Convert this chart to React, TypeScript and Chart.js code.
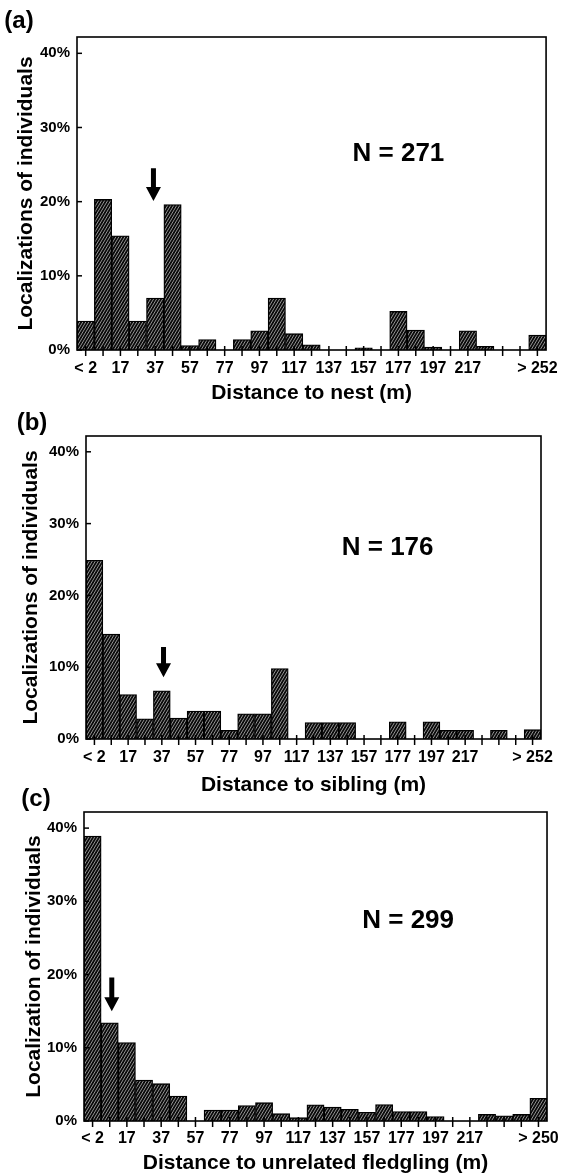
import React, { useEffect, useRef } from "react";
import { Chart, registerables } from "chart.js";

Chart.register(...registerables);

const FONT = '"Liberation Sans", Arial, Helvetica, sans-serif';

// Tick labels (one per 10 m bin, every other bin labelled)
const binLabels252 = ["< 2", "", "17", "", "37", "", "57", "", "77", "", "97", "", "117", "", "137", "", "157", "", "177", "", "197", "", "217", "", "", "", "> 252"];
const binLabels250 = ["< 2", "", "17", "", "37", "", "57", "", "77", "", "97", "", "117", "", "137", "", "157", "", "177", "", "197", "", "217", "", "", "", "> 250"];

// Percent of localizations per bin
const nestPct = [3.9, 20.3, 15.4, 3.9, 7.0, 19.6, 0.6, 1.4, 0, 1.4, 2.6, 7.0, 2.2, 0.7, 0, 0, 0.3, 0, 5.2, 2.7, 0.4, 0, 2.6, 0.5, 0, 0, 2.0];
const siblingPct = [24.9, 14.6, 6.2, 2.8, 6.7, 2.9, 3.9, 3.9, 1.2, 3.5, 3.5, 9.8, 0, 2.3, 2.3, 2.3, 0, 0, 2.4, 0, 2.4, 1.2, 1.2, 0, 1.2, 0, 1.3];
const unrelatedPct = [38.9, 13.4, 10.7, 5.6, 5.1, 3.4, 0, 1.5, 1.5, 2.1, 2.5, 1.0, 0.45, 2.2, 1.9, 1.6, 1.2, 2.25, 1.3, 1.3, 0.6, 0, 0, 0.9, 0.7, 0.9, 3.1];

const panelLetters = ["(a)", "(b)", "(c)"];
const xTitles = ["Distance to nest (m)", "Distance to sibling (m)", "Distance to unrelated fledgling (m)"];
const yTitles = ["Localizations of individuals", "Localizations of individuals", "Localization of individuals"];
const nLabels = ["N = 271", "N = 176", "N = 299"];
// N label anchor: [bin index, percent]
const nAnchors = [[18.0, 26.5], [17.4, 26.6], [18.4, 27.3]];
// Arrows: [bin index, top percent, tip percent]
const arrows = [[3.9, 24.5, 20.1], [4.1, 12.8, 8.6], [1.12, 19.6, 15.0]];

const Y_MAX = 42.2;

type Layout = {
  top: number; height: number; padTop: number; padRight: number;
  yWidth: number; xHeight: number; yTitlePad: number; xTitlePad: number;
  tickPad: number; letterX: number; letterY: number;
};

const layouts: Layout[] = [
  { top: 0, height: 410, padTop: 37, padRight: 20, yWidth: 77, xHeight: 60, yTitlePad: 14, xTitlePad: 4, tickPad: 9, letterX: 19, letterY: 21 },
  { top: 400, height: 400, padTop: 36, padRight: 26, yWidth: 86, xHeight: 61, yTitlePad: 19, xTitlePad: 2, tickPad: 9, letterX: 32, letterY: 23 },
  { top: 780, height: 396, padTop: 32, padRight: 17, yWidth: 84, xHeight: 55, yTitlePad: 22, xTitlePad: 0, tickPad: 8, letterX: 36, letterY: 19 },
];

function makePattern(): CanvasPattern | string {
  const w = 3, h = 5;
  const c = document.createElement("canvas");
  c.width = w;
  c.height = h;
  const g = c.getContext("2d");
  if (!g) return "#222";
  g.fillStyle = "#0a0a0a";
  g.fillRect(0, 0, w, h);
  g.strokeStyle = "#b8b8b8";
  g.lineWidth = 0.8;
  g.beginPath();
  g.moveTo(0, h); g.lineTo(w, 0);
  g.moveTo(-w, h); g.lineTo(0, 0);
  g.moveTo(w, h); g.lineTo(2 * w, 0);
  g.stroke();
  return g.createPattern(c, "repeat") || "#222";
}

function makeDecor(i: number, L: Layout) {
  return {
    id: "decor" + i,
    afterDatasetsDraw(chart: any) {
      const { ctx, chartArea: a, scales } = chart;
      const x = scales.x, y = scales.y;
      ctx.save();
      ctx.strokeStyle = "#000";
      ctx.fillStyle = "#000";
      // frame
      ctx.lineWidth = 1.6;
      ctx.strokeRect(a.left, a.top, a.right - a.left, a.bottom - a.top);
      // x tick marks
      ctx.lineWidth = 1.5;
      const n = chart.data.labels.length;
      for (let k = 0; k < n; k++) {
        const px = x.getPixelForValue(k);
        ctx.beginPath();
        ctx.moveTo(px, a.bottom - 4);
        ctx.lineTo(px, a.bottom + 6);
        ctx.stroke();
      }
      // y tick marks (inside)
      for (const t of y.ticks) {
        const py = y.getPixelForValue(t.value);
        ctx.beginPath();
        ctx.moveTo(a.left, py);
        ctx.lineTo(a.left + 5, py);
        ctx.stroke();
      }
      // arrow
      const [ai, af, at] = arrows[i];
      const ax = x.getPixelForValue(ai);
      const ay0 = y.getPixelForValue(af);
      const ay1 = y.getPixelForValue(at);
      const headLen = 14, headW = 7.5, shaftW = 2.5;
      ctx.beginPath();
      ctx.moveTo(ax - shaftW, ay0);
      ctx.lineTo(ax + shaftW, ay0);
      ctx.lineTo(ax + shaftW, ay1 - headLen);
      ctx.lineTo(ax + headW, ay1 - headLen);
      ctx.lineTo(ax, ay1);
      ctx.lineTo(ax - headW, ay1 - headLen);
      ctx.lineTo(ax - shaftW, ay1 - headLen);
      ctx.closePath();
      ctx.fill();
      // N label
      const [ni, nv] = nAnchors[i];
      ctx.font = `bold 26px ${FONT}`;
      ctx.textAlign = "center";
      ctx.textBaseline = "middle";
      ctx.fillText(nLabels[i], x.getPixelForValue(ni), y.getPixelForValue(nv));
      // panel letter
      ctx.font = `bold 24px ${FONT}`;
      ctx.fillText(panelLetters[i], L.letterX, L.letterY);
      ctx.restore();
    },
  };
}

export default function App() {
  const r0 = useRef<HTMLCanvasElement>(null);
  const r1 = useRef<HTMLCanvasElement>(null);
  const r2 = useRef<HTMLCanvasElement>(null);

  useEffect(() => {
    const refs = [r0, r1, r2];
    const dataSets = [nestPct, siblingPct, unrelatedPct];
    const labelSets = [binLabels252, binLabels252, binLabels250];
    const pattern = makePattern();
    const charts: Chart[] = [];
    refs.forEach((ref, i) => {
      const L = layouts[i];
      const canvas = ref.current;
      if (!canvas) return;
      const ch = new Chart(canvas, {
        type: "bar",
        data: {
          labels: labelSets[i],
          datasets: [
            {
              data: dataSets[i],
              backgroundColor: pattern as any,
              borderColor: "#000",
              borderWidth: 1.3,
              barPercentage: 1,
              categoryPercentage: 1,
            },
          ],
        },
        options: {
          animation: false,
          responsive: false,
          maintainAspectRatio: false,
          devicePixelRatio: 1,
          events: [],
          layout: { padding: { top: L.padTop, right: L.padRight, left: 0, bottom: 0 } },
          plugins: {
            legend: { display: false },
            tooltip: { enabled: false },
            title: { display: false },
          },
          scales: {
            x: {
              type: "category",
              offset: true,
              grid: { display: false, drawTicks: false },
              border: { display: false },
              ticks: {
                autoSkip: false,
                maxRotation: 0,
                minRotation: 0,
                padding: L.tickPad,
                color: "#000",
                font: { family: FONT, size: 16, weight: "bold" },
              },
              title: {
                display: true,
                text: xTitles[i],
                color: "#000",
                font: { family: FONT, size: 21, weight: "bold" },
                padding: { top: 0, bottom: L.xTitlePad },
              },
              afterFit: (s: any) => { s.height = L.xHeight; },
            },
            y: {
              min: 0,
              max: Y_MAX,
              grid: { display: false, drawTicks: false },
              border: { display: false },
              ticks: {
                stepSize: 10,
                includeBounds: false,
                padding: 7,
                color: "#000",
                font: { family: FONT, size: 15, weight: "bold" },
                callback: (v: any) => `${v}%`,
              },
              title: {
                display: true,
                text: yTitles[i],
                color: "#000",
                font: { family: FONT, size: 21, weight: "bold" },
                padding: { top: L.yTitlePad, bottom: 0 },
              },
              afterFit: (s: any) => { s.width = L.yWidth; },
            },
          },
        } as any,
        plugins: [makeDecor(i, L)],
      });
      charts.push(ch);
    });
    return () => charts.forEach((c) => c.destroy());
  }, []);

  const refs = [r0, r1, r2];
  return (
    <div style={{ position: "absolute", left: 0, top: 0, width: 567, height: 1176, background: "#fff", overflow: "hidden" }}>
      {layouts.map((L, i) => (
        <canvas
          key={i}
          ref={refs[i]}
          width={567}
          height={L.height}
          style={{ position: "absolute", left: 0, top: L.top, width: 567, height: L.height }}
        />
      ))}
    </div>
  );
}
